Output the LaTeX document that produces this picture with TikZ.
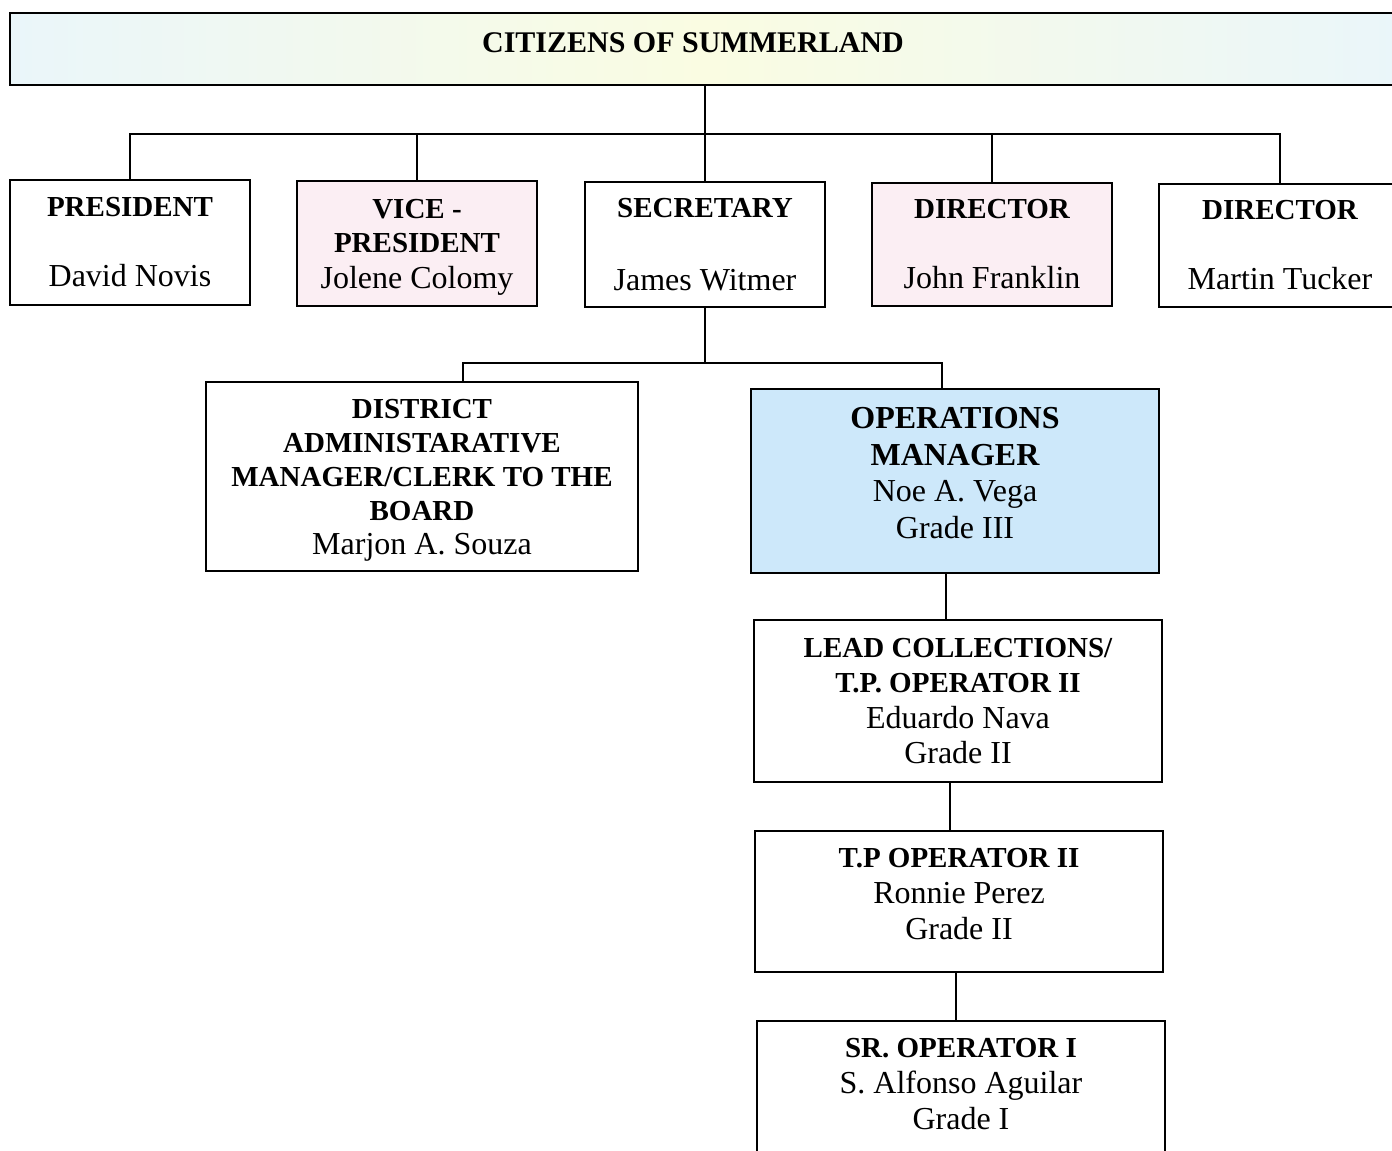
\documentclass[tikz,border=0pt]{standalone}
\usepackage{fontspec}
\setmainfont{Liberation Serif}
\definecolor{pinkfill}{RGB}{251,238,243}
\definecolor{bluefill}{RGB}{205,232,250}
\definecolor{cyanfill}{RGB}{234,246,250}
\definecolor{yellowfill}{RGB}{250,252,226}
\newcommand{\rolename}[1]{{\bfseries\fontsize{14.5}{18}\selectfont #1}}
\begin{document}
\begin{tikzpicture}
    [
    x=0.5pt,y=-0.5pt,
    box/.style={rectangle,draw,line width=0.8pt,inner sep=0pt,align=center,font=\fontsize{16}{18}\selectfont},
    small/.style={box,minimum width=120pt,minimum height=62.5pt},
    pinkbox/.style={small,fill=pinkfill},
    wide/.style={box,minimum width=204pt},
    link/.style={line width=0.7pt}
    ]
    \useasboundingbox (0,0) rectangle (1392,1151);

    \node (cit) at (705,49) [box,minimum width=695pt,minimum height=36pt,left color=cyanfill,right color=cyanfill,middle color=yellowfill] {\hspace*{-12pt}{\bfseries\fontsize{15}{18}\selectfont CITIZENS OF SUMMERLAND}\rule[-6pt]{0pt}{6pt}};

    \node (pres) at (130,242.5) [small] {\rolename{PRESIDENT}\\[17pt]David Novis};
    \node (vp) at (417,243.5) [pinkbox] {\rolename{VICE -}\\[-1pt]\rolename{PRESIDENT}\\\raisebox{0pt}[\height][0pt]{Jolene Colomy}};
    \node (sec) at (705,244.5) [small] {\rolename{SECRETARY}\\[18.5pt]James Witmer};
    \node (dir1) at (992,244.5) [pinkbox,minimum height=61.5pt] {\rolename{DIRECTOR}\\[17pt]John Franklin};
    \node (dir2) at (1280,245.5) [small,minimum width=121pt,minimum height=61.5pt] {\rolename{DIRECTOR}\\[17pt]Martin Tucker};
    \coordinate (bus) at (705,134);
    \draw [link] (cit.south -| sec.north) to (sec.north);
    \draw [link] (pres.north) |- (bus) -| (dir2.north);
    \draw [link] (vp.north) to (vp.north |- bus);
    \draw [link] (dir1.north) to (dir1.north |- bus);

    \node (dist) at (422,476.5) [box,minimum width=216pt,minimum height=94.5pt,font=\fontsize{16}{17}\selectfont] {\rolename{DISTRICT}\\\rolename{ADMINISTARATIVE}\\\rolename{MANAGER/CLERK TO THE}\\\rolename{BOARD}\\\raisebox{0pt}[\height][0pt]{Marjon A. Souza}};
    \node (ops) at (955,481) [wide,minimum height=92pt,fill=bluefill,font=\fontsize{16}{18.3}\selectfont] {{\bfseries OPERATIONS}\\{\bfseries MANAGER}\\Noe A. Vega\\Grade III\rule[-8pt]{0pt}{8pt}};
    \coordinate (jct) at (705,363);
    \draw [link] (sec.south) to (jct);
    \draw [link] ([xshift=20.5pt]dist.north) |- (jct) -| ([xshift=-6.5pt]ops.north);

    \node (lead) at (958,701) [wide,minimum height=81pt,font=\fontsize{16}{17.8}\selectfont] {\rolename{LEAD COLLECTIONS/}\\\rolename{T.P. OPERATOR II}\\Eduardo Nava\\Grade II};
    \node (tp) at (959,901.5) [wide,minimum height=70.5pt] {\rolename{T.P OPERATOR II}\\Ronnie Perez\\Grade II\rule[-7.5pt]{0pt}{7.5pt}};
    \node (sr) at (961,1091.5) [wide,minimum height=70.5pt] {\rolename{SR. OPERATOR I}\\S. Alfonso Aguilar\\Grade I\rule[-7.5pt]{0pt}{7.5pt}};
    \draw [link] ([xshift=-4.5pt]ops.south) to ([xshift=-4.5pt]ops.south |- lead.north);
    \draw [link] ([xshift=-4pt]lead.south) to ([xshift=-4pt]lead.south |- tp.north);
    \draw [link] ([xshift=-1.5pt]tp.south) to ([xshift=-1.5pt]tp.south |- sr.north);
  \end{tikzpicture}
\end{document}
